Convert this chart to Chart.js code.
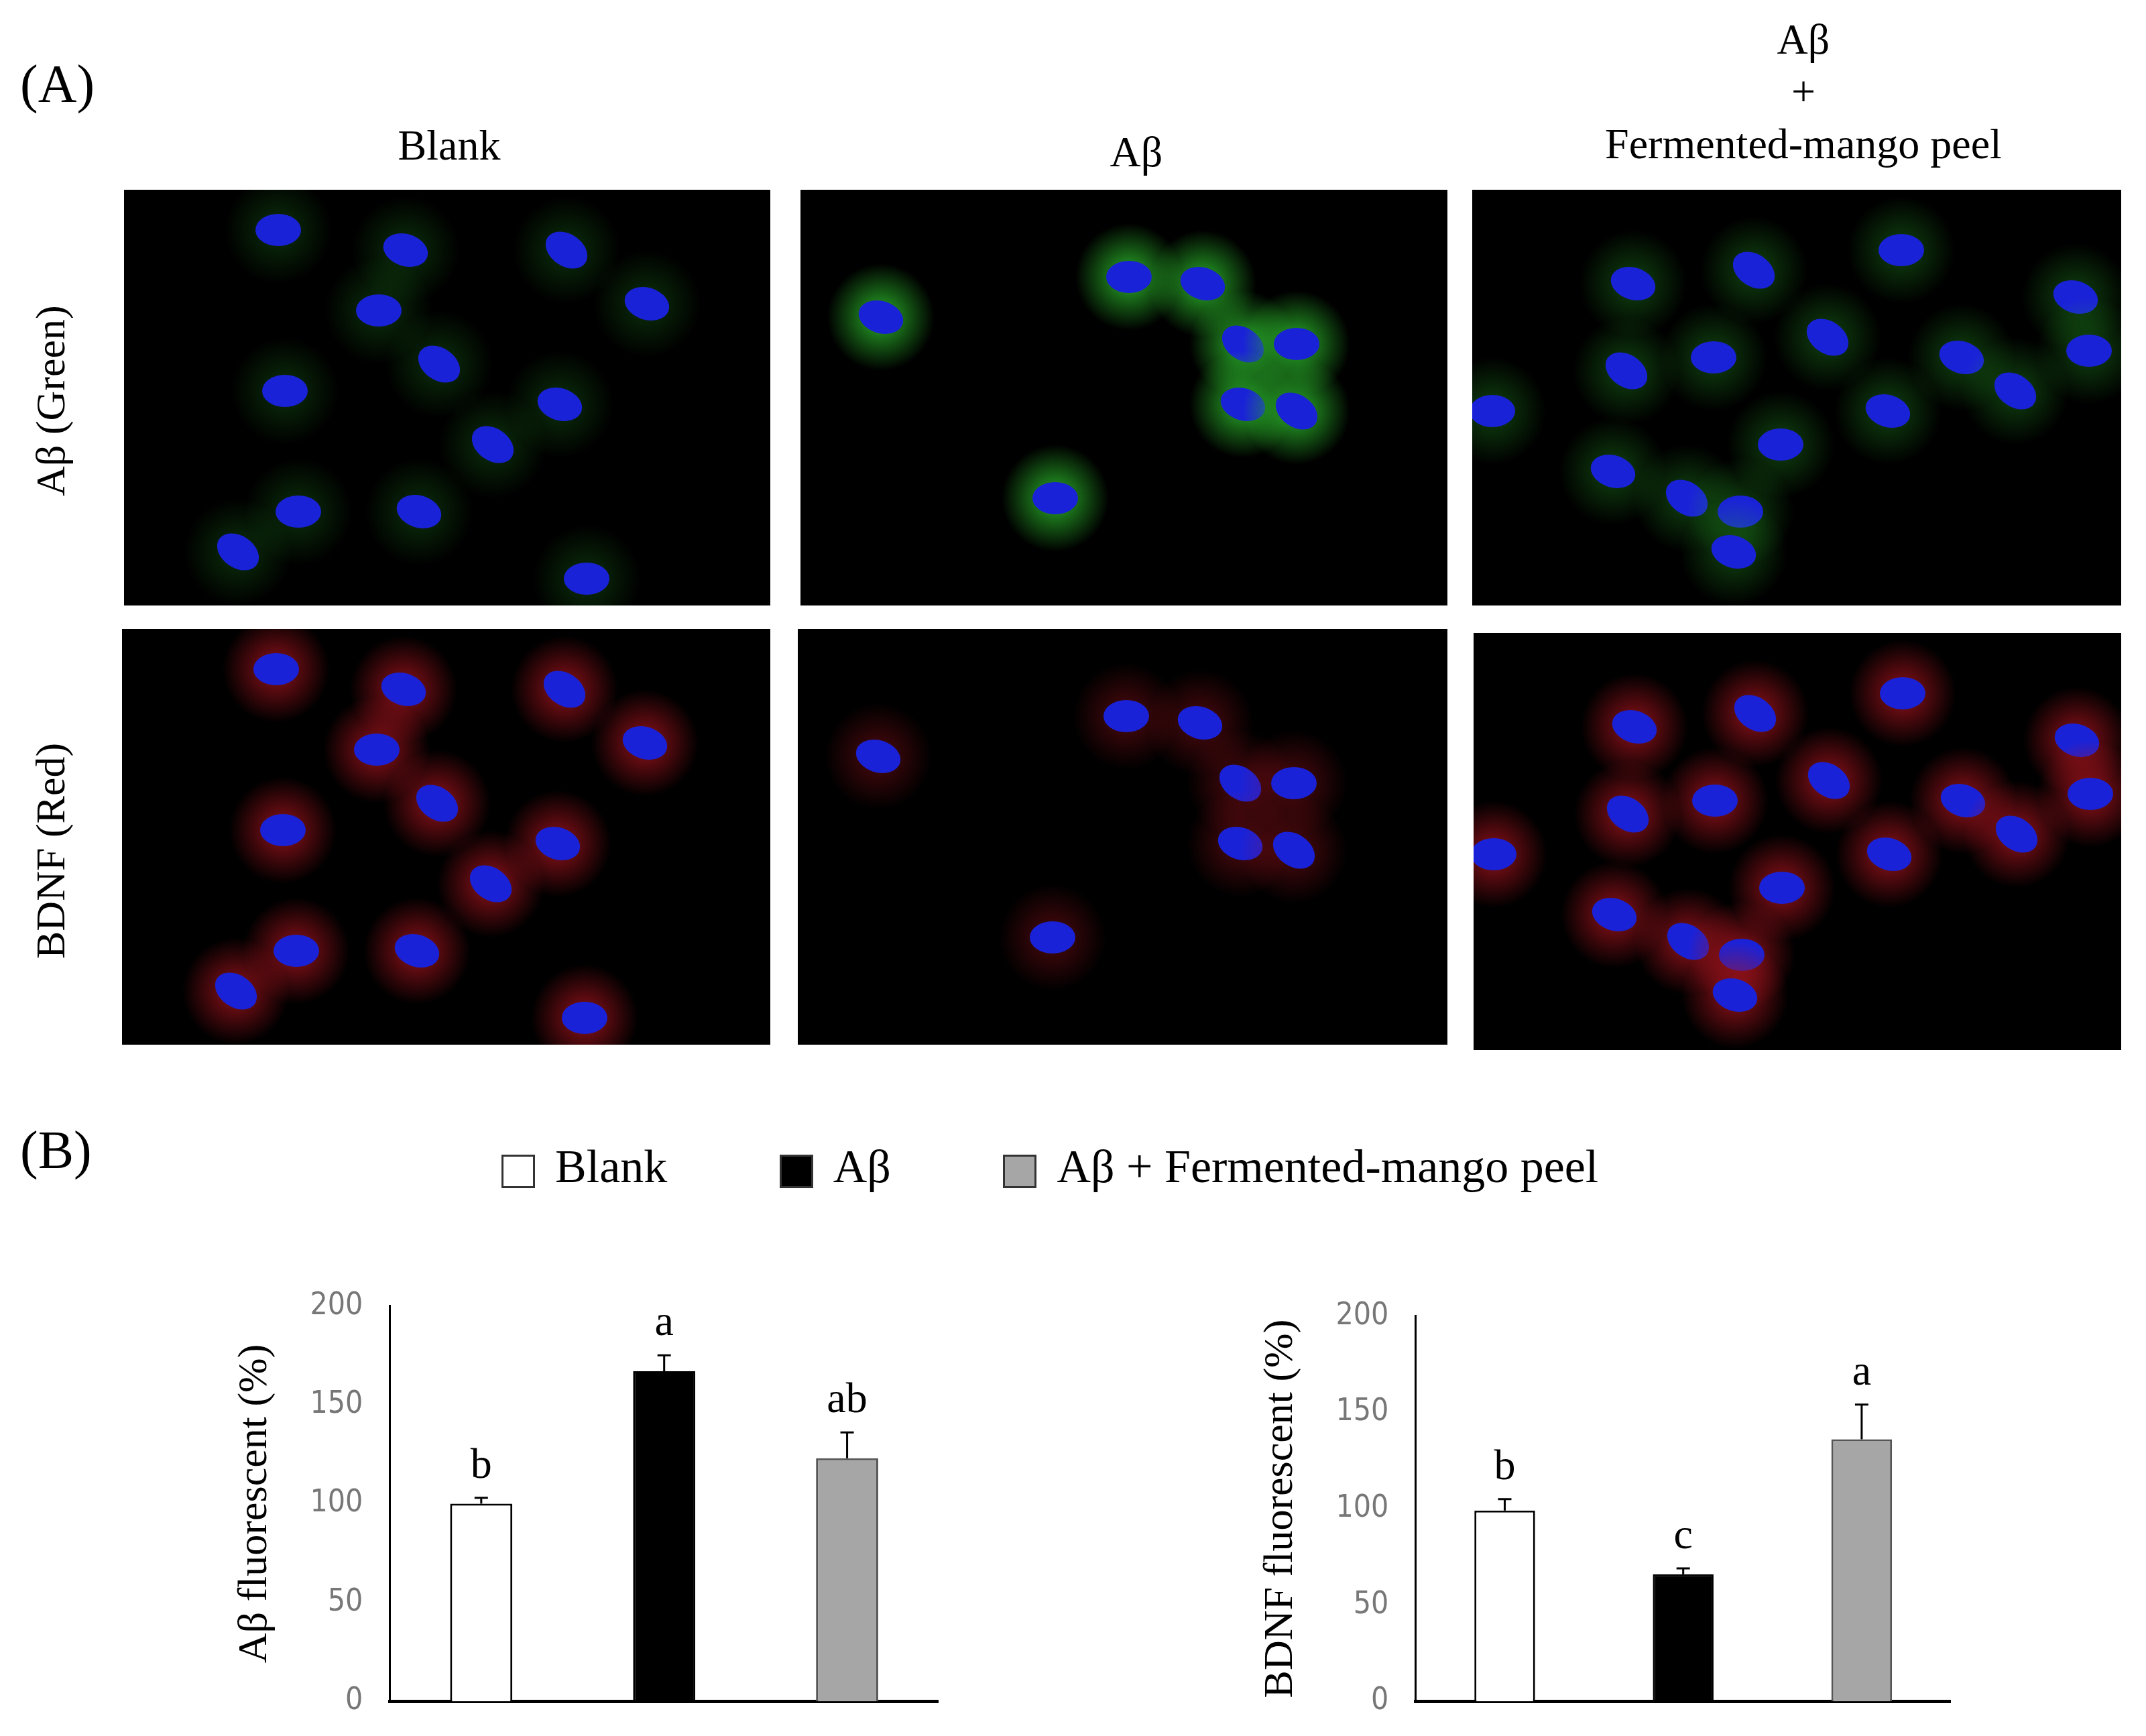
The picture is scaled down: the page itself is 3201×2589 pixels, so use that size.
<!DOCTYPE html>
<html>
<head>
<meta charset="utf-8">
<script src="https://cdn.jsdelivr.net/npm/chart.js@4.4.1/dist/chart.umd.min.js"></script>
<style>
  body { margin:0; background:#fff; width:3201px; height:2589px; position:relative; overflow:hidden;
         font-family:"Liberation Serif","DejaVu Serif",serif; color:#000; }
  .t { position:absolute; white-space:nowrap; }
  .lab { font-size:64px; text-align:center; }
  .micro { position:absolute; background:#000; }
  .sw { display:inline-block; width:50px; height:50px; border:3px solid #333; vertical-align:middle; margin-right:30px; box-sizing:border-box; }
  .cbox { position:absolute; }
</style>
</head>
<body>
<div class="t" style="left:30px;top:80px;font-size:80px">(A)</div>
<div class="t lab" style="left:470px;top:180px;width:400px">Blank</div>
<div class="t lab" style="left:1495px;top:190px;width:400px">Aβ</div>
<div class="t lab" style="left:2290px;top:20px;width:800px;line-height:78px">Aβ<br>+<br>Fermented-mango peel</div>
<div class="t" style="left:40px;font-size:62px;transform:rotate(-90deg);transform-origin:0 0;top:740px">Aβ (Green)</div>
<div class="t" style="left:40px;top:1430px;font-size:62px;transform:rotate(-90deg);transform-origin:0 0">BDNF (Red)</div>

<canvas id="m0" class="micro" style="left:185px;top:283px" width="964" height="620"></canvas>
<canvas id="m1" class="micro" style="left:1194px;top:283px" width="965" height="620"></canvas>
<canvas id="m2" class="micro" style="left:2196px;top:283px" width="968" height="620"></canvas>
<canvas id="m3" class="micro" style="left:182px;top:938px" width="967" height="620"></canvas>
<canvas id="m4" class="micro" style="left:1190px;top:938px" width="969" height="620"></canvas>
<canvas id="m5" class="micro" style="left:2198px;top:944px" width="966" height="622"></canvas>

<div class="t" style="left:30px;top:1670px;font-size:80px">(B)</div>
<div class="t" style="left:748px;top:1700px;font-size:70px">
  <span class="sw" style="background:#fff"></span>Blank
  <span class="sw" style="background:#000;margin-left:150px"></span>Aβ
  <span class="sw" style="background:#a6a6a6;margin-left:150px"></span>Aβ + Fermented-mango peel
</div>

<div class="cbox" style="left:340px;top:1880px;width:1060px;height:725px"><canvas id="c1"></canvas></div>
<div class="cbox" style="left:1870px;top:1895px;width:1040px;height:710px"><canvas id="c2"></canvas></div>

<script>
const groups = ['Blank', 'Aβ', 'Aβ + Fermented-mango peel'];
const abValues = [100, 167, 123];
const abErrors = [3, 8, 13];
const abLetters = ['b', 'a', 'ab'];
const bdnfValues = [99, 66, 136];
const bdnfErrors = [6, 3, 18];
const bdnfLetters = ['b', 'c', 'a'];
const yTicks = [0, 50, 100, 150, 200];
const fills = ['#ffffff', '#000000', '#a6a6a6'];

// microscopy panels (illustrative only)
const cellsA = [
  [[230,60],[420,90],[660,90],[380,180],[780,170],[470,260],[240,300],[650,320],[550,380],[260,480],[440,480],[170,540],[690,580]],
  [[490,130],[600,140],[660,230],[740,230],[660,320],[740,330],[380,460],[120,190]],
  [[30,330],[240,140],[420,120],[640,90],[900,160],[530,220],[360,250],[730,250],[230,270],[460,380],[620,330],[810,300],[920,240],[210,420],[320,460],[400,480],[390,540]]
];
const greens = [0.25, 0.9, 0.35];
function drawMicro(id, cells, col, amt) {
  const cv = document.getElementById(id), g = cv.getContext('2d');
  g.fillStyle = '#000'; g.fillRect(0, 0, cv.width, cv.height);
  cells.forEach(function (c, i) {
    const r = 80;
    const gr = g.createRadialGradient(c[0], c[1], 10, c[0], c[1], r);
    gr.addColorStop(0, 'rgba(' + col + ',' + amt + ')');
    gr.addColorStop(1, 'rgba(' + col + ',0)');
    g.fillStyle = gr;
    g.beginPath(); g.ellipse(c[0], c[1], r * 1.2, r, 0, 0, Math.PI * 2); g.fill();
    g.fillStyle = '#1a22d8';
    g.beginPath(); g.ellipse(c[0], c[1], 34, 24, (i % 3) * 0.3, 0, Math.PI * 2); g.fill();
  });
}
for (let k = 0; k < 3; k++) {
  drawMicro('m' + k, cellsA[k], '40,170,40', greens[k]);
  drawMicro('m' + (k + 3), cellsA[k], '170,20,30', k === 1 ? 0.4 : 0.75);
}

const extras = {
  id: 'extras',
  afterDatasetsDraw(chart, args, opts) {
    const g = chart.ctx, y = chart.scales.y, meta = chart.getDatasetMeta(0);
    g.save();
    meta.data.forEach(function (bar, i) {
      const top = y.getPixelForValue(opts.values[i] + opts.errors[i]);
      g.strokeStyle = '#000'; g.lineWidth = 3;
      g.beginPath(); g.moveTo(bar.x, bar.y); g.lineTo(bar.x, top);
      g.moveTo(bar.x - 10, top); g.lineTo(bar.x + 10, top); g.stroke();
      g.fillStyle = '#000'; g.font = '64px "Liberation Serif"'; g.textAlign = 'center';
      g.fillText(opts.letters[i], bar.x, top - 30);
    });
    g.restore();
  }
};

function makeChart(id, values, errors, letters, title) {
  new Chart(document.getElementById(id), {
    type: 'bar',
    data: { labels: groups, datasets: [{ data: values, backgroundColor: fills, borderColor: ['#000', '#000', '#555'], borderWidth: 3, borderSkipped: 'bottom', barPercentage: 0.34, categoryPercentage: 1 }] },
    options: {
      responsive: true, maintainAspectRatio: false, animation: false,
      layout: { padding: { top: 50, bottom: 10 } },
      plugins: { legend: { display: false }, tooltip: { enabled: false },
        extras: { values: values, errors: errors, letters: letters } },
      scales: {
        x: { grid: { display: false }, ticks: { display: false }, border: { color: '#000', width: 5 } },
        y: { min: 0, max: 200, afterBuildTicks: function (ax) { ax.ticks = yTicks.map(function (v) { return { value: v }; }); },
          grid: { display: false, drawTicks: false }, border: { color: '#000', width: 3 },
          ticks: { color: '#777', padding: 40, font: { size: 46, family: 'DejaVu Sans Condensed' } },
          title: { display: true, text: title, color: '#000', font: { size: 62, family: 'Liberation Serif' } } }
      }
    },
    plugins: [extras]
  });
}
makeChart('c1', abValues, abErrors, abLetters, 'Aβ fluorescent (%)');
makeChart('c2', bdnfValues, bdnfErrors, bdnfLetters, 'BDNF fluorescent (%)');
</script>
</body>
</html>
